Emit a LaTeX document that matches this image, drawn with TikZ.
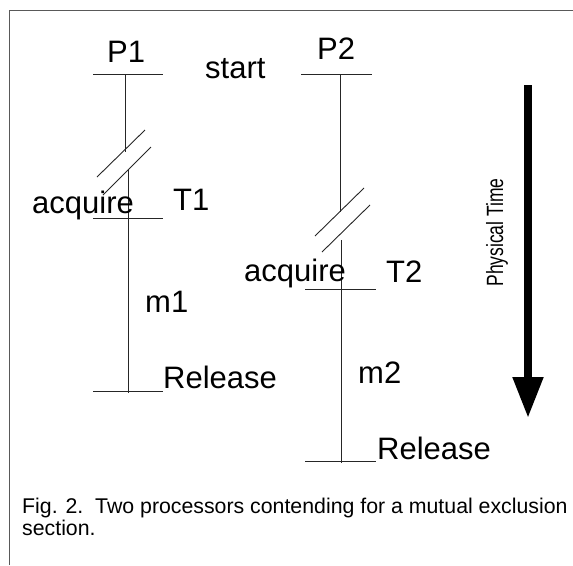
\documentclass[tikz,border=0pt]{standalone}
\usepackage{fontspec}
\setmainfont{Liberation Sans}
\usetikzlibrary{arrows.meta}
\begin{document}
\begin{tikzpicture}[x=1pt,y=-1pt,
  lbl/.style={inner sep=0pt, anchor=base west, font=\fontsize{31}{36}\selectfont},
  captxt/.style={inner sep=0pt, anchor=base west, font=\fontsize{21.3}{25}\selectfont},
  tl/.style={line width=0.9pt, draw=black!85},
  framel/.style={line width=1pt, draw=black!65},
  timearrow/.style={line width=8pt, -{Triangle[width=29pt,length=41pt]}}
  ]
\useasboundingbox (0,0) rectangle (573,565);
% frame
\coordinate (fbl) at (9,565);
\coordinate (ftl) at (9,10);
\coordinate (ftr) at (573,10);
\draw[framel] (fbl) -- (ftl) -- (ftr);

% processor 1
\coordinate (p1a) at (93,74);   \coordinate (p1b) at (163,74);
\coordinate (v1a) at (125,74);  \coordinate (v1b) at (125,152);
\coordinate (v1c) at (128,170); \coordinate (v1d) at (128,393);
\coordinate (s1a) at (97,177);  \coordinate (s1b) at (145,130);
\coordinate (s1c) at (103,195); \coordinate (s1d) at (151,147);
\coordinate (t1a) at (93,218);  \coordinate (t1b) at (163,218);
\coordinate (r1a) at (93,391);  \coordinate (r1b) at (163,391);
\draw[tl] (p1a) -- (p1b);
\draw[tl] (v1a) -- (v1b);
\draw[tl] (v1c) -- (v1d);
\draw[tl] (s1a) -- (s1b);
\draw[tl] (s1c) -- (s1d);
\draw[tl] (t1a) -- (t1b);
\draw[tl] (r1a) -- (r1b);

% processor 2
\coordinate (p2a) at (301,74);  \coordinate (p2b) at (372,74);
\coordinate (v2a) at (340,74);  \coordinate (v2b) at (340,212);
\coordinate (v2c) at (341,240); \coordinate (v2d) at (341,463);
\coordinate (s2a) at (315,236); \coordinate (s2b) at (364,188);
\coordinate (s2c) at (322,252); \coordinate (s2d) at (370,205);
\coordinate (t2a) at (305,289); \coordinate (t2b) at (376,289);
\coordinate (r2a) at (305,461); \coordinate (r2b) at (376,461);
\draw[tl] (p2a) -- (p2b);
\draw[tl] (v2a) -- (v2b);
\draw[tl] (v2c) -- (v2d);
\draw[tl] (s2a) -- (s2b);
\draw[tl] (s2c) -- (s2d);
\draw[tl] (t2a) -- (t2b);
\draw[tl] (r2a) -- (r2b);

% labels
\node[lbl] (P1) at (107,62) {P1};
\node[lbl] (start) at (205,78) {start};
\node[lbl] (acq1) at (32,213) {acquire};
\node[lbl] (T1) at (173,210) {T1};
\node[lbl] (m1) at (145,312) {m1};
\node[lbl] (rel1) at (163,388) {Release};
\node[lbl] (P2) at (317,59) {P2};
\node[lbl] (acq2) at (244,281) {acquire};
\node[lbl] (T2) at (386,282) {T2};
\node[lbl] (m2) at (358,383) {m2};
\node[lbl] (rel2) at (377,459) {Release};

% physical time arrow
\coordinate (ta) at (528,85);
\coordinate (tb) at (528,418);
\draw[timearrow] (ta) -- (tb);
\node[inner sep=0pt, anchor=base, rotate=90, font=\fontsize{23.5}{26}\selectfont] (pt) at (503,232.5) {\scalebox{0.745}[1]{Physical Time}};

% caption
\node[captxt] (cap1) at (22,513) {Fig. 2.\ \ Two processors contending for a mutual exclusion};
\node[captxt] (cap2) at (22,535) {section.};
\end{tikzpicture}
\end{document}
